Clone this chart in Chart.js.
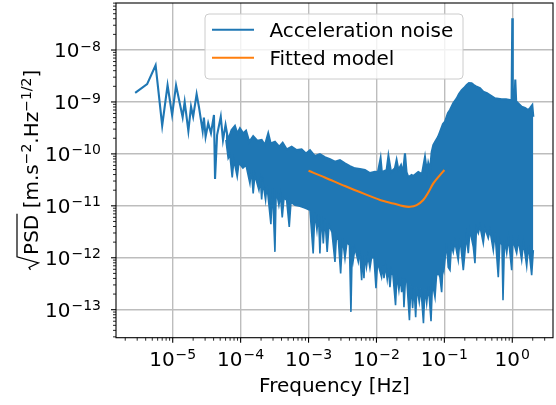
<!DOCTYPE html>
<html>
<head>
<meta charset="utf-8">
<script src="https://cdn.jsdelivr.net/npm/chart.js@4.4.1/dist/chart.umd.min.js"></script>
<style>
  html, body { margin: 0; padding: 0; background: #fff; }
  #wrap { width: 556px; height: 405px; }
</style>
</head>
<body>
<div id="wrap"><canvas id="psd" width="556" height="405"></canvas></div>
<script>
// === Acceleration noise PSD (log-log) ===

// --- Data ---
// low-frequency line, then the top edge of the noise band
const noiseFreq = [
  2.8e-6, 4.2e-6, 5.6e-6, 7.0e-6, 8.4e-6, 9.8e-6, 1.12e-5, 1.4e-5, 1.5e-5, 1.7e-5,
  1.86e-5, 2.0e-5, 2.25e-5, 2.43e-5, 2.76e-5, 2.88e-5, 3.05e-5, 3.33e-5, 3.66e-5, 4.05e-5,
  4.2e-5, 4.5e-5, 5.1e-5, 5.5e-5, 6.0e-5,
  6.56e-5, 7.36e-5, 8.24e-5, 8.91e-5, 9.77e-5, 1.09e-4, 1.20e-4, 1.34e-4, 1.53e-4, 1.76e-4,
  2.04e-4, 2.28e-4, 2.55e-4, 2.77e-4, 3.20e-4, 3.70e-4, 4.16e-4, 4.76e-4, 5.64e-4, 6.68e-4,
  7.91e-4, 9.16e-4, 1.05e-3, 1.24e-3, 1.47e-3, 1.74e-3, 2.07e-3, 2.45e-3, 2.90e-3, 3.44e-3,
  4.07e-3, 4.82e-3, 5.72e-3, 6.77e-3, 8.02e-3, 9.51e-3, 1.05e-2, 1.15e-2, 1.20e-2, 1.41e-2,
  1.50e-2, 1.64e-2, 1.87e-2, 1.98e-2, 2.11e-2, 2.30e-2, 2.46e-2, 2.63e-2, 2.77e-2, 2.94e-2,
  3.30e-2, 3.48e-2, 4.13e-2, 4.68e-2, 5.18e-2, 5.54e-2, 5.79e-2, 6.14e-2, 6.50e-2, 6.87e-2,
  7.28e-2, 8.05e-2, 8.61e-2, 9.53e-2, 0.102, 0.113, 0.121, 0.135, 0.152, 0.164,
  0.180, 0.194, 0.213, 0.230, 0.252, 0.273, 0.299, 0.334, 0.374, 0.424,
  0.469, 0.556, 0.698, 0.808, 0.925, 0.977, 1.0, 1.017, 1.077, 1.107,
  1.14, 1.21, 1.375, 1.54, 1.72, 1.82, 1.97, 2.04
];
const noisePsd = [
  1.5e-9, 2.2e-9, 5.1e-9, 3.5e-10, 2.1e-9, 5.6e-10, 2.1e-9, 5.1e-10, 1.0e-9, 2.75e-10,
  8.1e-10, 5.2e-10, 1.42e-9, 8.1e-10, 2.75e-10, 5.0e-10, 2.14e-10, 3.9e-10, 2.5e-10, 5.6e-10,
  3.3e-11, 2.3e-10, 5.2e-10, 1.85e-10, 3.6e-10,
  1.85e-10, 2.87e-10, 3.44e-10, 2.48e-10, 3.1e-10, 2.48e-10, 2.79e-10, 1.71e-10, 2.2e-10, 1.79e-10,
  1.85e-10, 1.48e-10, 2.48e-10, 1.59e-10, 1.71e-10, 1.37e-10, 1.64e-10, 1.22e-10, 1.37e-10, 1.18e-10,
  1.22e-10, 1.02e-10, 1.18e-10, 9.08e-11, 9.9e-11, 8.67e-11, 7.94e-11, 7.05e-11, 7.6e-11, 6.56e-11,
  5.82e-11, 5.26e-11, 5.09e-11, 4.88e-11, 4.27e-11, 4.52e-11, 4.46e-11, 8.18e-11, 4.46e-11, 4.88e-11,
  9.08e-11, 4.46e-11, 5.32e-11, 7.6e-11, 4.88e-11, 6.08e-11, 4.27e-11, 1.02e-10, 4.46e-11, 3.57e-11,
  3.91e-11, 3.73e-11, 4.46e-11, 4.08e-11, 8.67e-11, 4.46e-11, 6.65e-11, 4.88e-11, 1.08e-10, 1.48e-10,
  1.69e-10, 2.11e-10, 2.63e-10, 3.75e-10, 4.16e-10, 6.11e-10, 6.98e-10, 9.4e-10, 1.17e-9, 1.42e-9,
  1.69e-9, 1.85e-9, 2.12e-9, 2.31e-9, 2.28e-9, 2.12e-9, 1.96e-9, 1.85e-9, 1.57e-9, 1.48e-9,
  1.36e-9, 1.17e-9, 1.12e-9, 1.13e-9, 1.09e-9, 1.13e-9, 4.1e-8, 1.13e-9, 1.09e-9, 2.7e-9,
  1.04e-9, 9.5e-10, 8.09e-10, 7.63e-10, 6.98e-10, 7.63e-10, 8.7e-10, 5.19e-10
];

// bottom edge of the noise band (with the downward spikes)
const floorFreq = [
  6.07e-5, 6.56e-5, 6.95e-5, 7.52e-5, 7.96e-5, 8.91e-5, 9.44e-5, 1.08e-4, 1.20e-4, 1.37e-4,
  1.44e-4, 1.53e-4, 1.62e-4, 1.86e-4, 1.96e-4, 2.04e-4, 2.13e-4, 2.33e-4, 2.44e-4, 2.79e-4,
  2.94e-4, 3.20e-4, 3.34e-4, 3.66e-4, 3.86e-4, 4.10e-4, 4.35e-4, 4.76e-4, 5.20e-4, 5.51e-4,
  6.31e-4, 7.47e-4, 8.85e-4, 1.05e-3, 1.17e-3, 1.24e-3, 1.33e-3, 1.40e-3, 1.47e-3, 1.55e-3,
  1.65e-3, 1.74e-3, 1.88e-3, 2.00e-3, 2.21e-3, 2.45e-3, 2.58e-3, 2.75e-3, 2.97e-3, 3.16e-3,
  3.44e-3, 3.68e-3, 4.00e-3, 4.21e-3, 4.40e-3, 4.55e-3, 4.82e-3, 5.40e-3, 5.66e-3, 6.06e-3,
  6.24e-3, 6.55e-3, 6.77e-3, 7.13e-3, 7.50e-3, 8.02e-3, 8.44e-3, 9.18e-3, 9.84e-3, 1.04e-2,
  1.19e-2, 1.25e-2, 1.29e-2, 1.36e-2, 1.44e-2, 1.50e-2, 1.58e-2, 1.66e-2, 1.75e-2, 1.91e-2,
  2.00e-2, 2.14e-2, 2.25e-2, 2.35e-2, 2.46e-2, 2.54e-2, 2.67e-2, 2.81e-2, 3.06e-2, 3.22e-2,
  3.41e-2, 3.57e-2, 3.78e-2, 3.95e-2, 4.27e-2, 4.52e-2, 4.92e-2, 5.18e-2, 5.49e-2, 5.83e-2,
  6.36e-2, 6.68e-2, 7.28e-2, 7.65e-2, 8.05e-2, 8.61e-2, 9.12e-2, 9.53e-2, 9.85e-2, 0.108,
  0.114, 0.121, 0.127, 0.135, 0.143, 0.160, 0.170, 0.190, 0.211, 0.225,
  0.238, 0.267, 0.282, 0.297, 0.316, 0.334, 0.374, 0.396, 0.443, 0.469,
  0.525, 0.556, 0.622, 0.659, 0.705, 0.730, 0.768, 0.828, 0.879, 0.98,
  1.024, 1.16, 1.23, 1.375, 1.46, 1.63, 1.73, 1.93, 2.04
];
const floorPsd = [
  1.85e-10, 8.18e-11, 9.48e-11, 3.52e-11, 7.6e-11, 3.62e-11, 6.65e-11, 5.32e-11, 6.08e-11, 2.7e-11,
  4.88e-11, 1.73e-11, 3.91e-11, 2.01e-11, 3.13e-11, 1.33e-11, 2.86e-11, 1.29e-11, 2.51e-11, 4.43e-12,
  2.19e-11, 1.30e-12, 2.01e-11, 1.03e-11, 1.61e-11, 5.98e-12, 1.41e-11, 1.29e-11, 3.94e-12, 1.18e-11,
  1.03e-11, 9.86e-12, 9.03e-12, 8.26e-12, 1.21e-12, 7.56e-12, 3.4e-12, 6.92e-12, 1.21e-12, 6.34e-12,
  1.89e-12, 5.8e-12, 1.30e-12, 4.25e-12, 3.11e-12, 8.34e-13, 2.72e-12, 2.18e-12, 4.98e-13, 2.39e-12,
  9.7e-13, 2.0e-12, 1.75e-12, 9.08e-14, 1.67e-12, 8.99e-13, 1.53e-12, 8.34e-13, 1.4e-12, 3.7e-13,
  1.12e-12, 4.05e-13, 1.12e-12, 6.59e-13, 1.07e-12, 6.3e-13, 9.8e-13, 1.03e-12, 2.59e-13, 8.22e-13,
  4.23e-13, 7.2e-13, 4.05e-13, 6.89e-13, 3.87e-13, 6.3e-13, 2.71e-13, 5.77e-13, 4.62e-13, 1.22e-13,
  4.62e-13, 2.38e-13, 4.23e-13, 2.17e-13, 4.05e-13, 1.12e-13, 3.7e-13, 3.39e-13, 6.28e-14, 3.1e-13,
  1.07e-13, 2.84e-13, 7.18e-14, 2.71e-13, 1.4e-13, 2.59e-13, 5.5e-14, 2.59e-13, 1.33e-13, 2.84e-13,
  6.0e-14, 3.24e-13, 1.74e-13, 4.42e-13, 5.28e-13, 4.23e-13, 2.17e-13, 7.2e-13, 5.77e-13, 1.91e-12,
  6.59e-13, 5.77e-13, 1.75e-12, 1.28e-12, 2.0e-12, 8.99e-13, 2.39e-12, 5.77e-13, 2.61e-12, 1.23e-12,
  3.4e-12, 1.6e-12, 7.87e-13, 3.72e-12, 2.98e-12, 4.06e-12, 1.91e-12, 3.72e-12, 2.39e-12, 3.4e-12,
  1.4e-12, 3.11e-12, 4.23e-13, 2.18e-12, 1.75e-12, 1.52e-13, 2.18e-12, 1.23e-12, 2.39e-12, 5.77e-13,
  2.18e-12, 1.23e-12, 2.18e-12, 8.99e-13, 2.0e-12, 6.89e-13, 1.75e-12, 4.62e-13, 1.4e-12
];

// fitted model
const modelFreq = [1.0e-3, 1.74e-3, 3.44e-3, 6.77e-3, 1.13e-2, 1.77e-2, 2.48e-2, 3.11e-2, 3.91e-2, 4.89e-2, 5.79e-2, 6.87e-2, 8.61e-2, 0.1];
const modelPsd = [4.72e-11, 3.52e-11, 2.40e-11, 1.68e-11, 1.30e-11, 1.11e-11, 9.86e-12, 9.57e-12, 1.03e-11, 1.29e-11, 1.80e-11, 2.70e-11, 3.91e-11, 4.9e-11];

// axis decades
const xTickExps = [-5, -4, -3, -2, -1, 0];
const yTickExps = [-13, -12, -11, -10, -9, -8];

const BLUE = '#1f77b4';
const ORANGE = '#ff7f0e';
const FONT = '"DejaVu Sans", "Liberation Sans", sans-serif';

const pts = (xs, ys) => xs.map((x, i) => ({ x, y: ys[i] }));

// "10" with a raised exponent
function drawPower(ctx, exp, x, y, align) {
    const sup = (exp < 0 ? '\u2212' : '') + Math.abs(exp);
    ctx.font = '20px ' + FONT;
    const wb = ctx.measureText('10').width;
    ctx.font = '14px ' + FONT;
    const ws = ctx.measureText(sup).width;
    const w = wb + 1 + ws;
    const left = align === 'center' ? x - w / 2 : x - w;
    ctx.textAlign = 'left';
    ctx.textBaseline = 'alphabetic';
    ctx.font = '20px ' + FONT;
    ctx.fillText('10', left, y);
    ctx.font = '14px ' + FONT;
    ctx.fillText(sup, left + wb + 1, y - 6.7);
}

function drawYLabel(ctx) {
    const big = '20px ' + FONT, small = '14px ' + FONT;
    const runs = [['PSD', 0], [' [m.s', 0], ['\u22122', 1], ['.Hz', 0], ['\u22121/2', 1], [']', 0]];
    const radW = 16;
    let total = radW;
    runs.forEach(r => { ctx.font = r[1] ? small : big; r.w = ctx.measureText(r[0]).width; total += r.w; });
    ctx.save();
    ctx.translate(37.5, 170.3);
    ctx.rotate(-Math.PI / 2);
    let u = -total / 2;
    // radical sign + bar over PSD
    ctx.strokeStyle = '#000';
    ctx.lineWidth = 1.2;
    ctx.beginPath();
    ctx.moveTo(u + 1, -7);
    ctx.lineTo(u + 3.5, -8.5);
    ctx.lineTo(u + 8, 1);
    ctx.lineTo(u + 14, -20.5);
    ctx.lineTo(u + radW + runs[0].w + 1, -20.5);
    ctx.stroke();
    u += radW;
    ctx.textAlign = 'left';
    ctx.textBaseline = 'alphabetic';
    runs.forEach(r => {
        ctx.font = r[1] ? small : big;
        ctx.fillText(r[0], u, r[1] ? -6.7 : 0);
        u += r.w;
    });
    ctx.restore();
}

function roundRect(ctx, x, y, w, h, r) {
    ctx.beginPath();
    ctx.moveTo(x + r, y);
    ctx.arcTo(x + w, y, x + w, y + h, r);
    ctx.arcTo(x + w, y + h, x, y + h, r);
    ctx.arcTo(x, y + h, x, y, r);
    ctx.arcTo(x, y, x + w, y, r);
    ctx.closePath();
}

// spines, ticks, tick labels, axis titles and legend (matplotlib look)
const decorations = {
    id: 'decorations',
    afterDraw(chart) {
        const { ctx, chartArea: a, scales: { x, y } } = chart;
        ctx.save();
        ctx.fillStyle = '#000';
        ctx.strokeStyle = '#000';

        // ticks
        const tick = (x1, y1, x2, y2, lw) => {
            ctx.lineWidth = lw;
            ctx.beginPath(); ctx.moveTo(x1, y1); ctx.lineTo(x2, y2); ctx.stroke();
        };
        for (let n = -6; n <= 0; n++) {
            for (let m = 1; m <= 9; m++) {
                const v = m * Math.pow(10, n);
                if (v < x.min || v > x.max) continue;
                const px = x.getPixelForValue(v);
                tick(px, a.bottom, px, a.bottom + (m === 1 ? 5 : 3), m === 1 ? 1.1 : 0.85);
            }
        }
        for (let n = -14; n <= -8; n++) {
            for (let m = 1; m <= 9; m++) {
                const v = m * Math.pow(10, n);
                if (v < y.min || v > y.max) continue;
                const py = y.getPixelForValue(v);
                tick(a.left, py, a.left - (m === 1 ? 5 : 3), py, m === 1 ? 1.1 : 0.85);
            }
        }

        // spines
        ctx.lineWidth = 1.1;
        ctx.strokeRect(a.left, a.top, a.right - a.left, a.bottom - a.top);

        // tick labels
        xTickExps.forEach(e => drawPower(ctx, e, x.getPixelForValue(Math.pow(10, e)), 366, 'center'));
        yTickExps.forEach(e => drawPower(ctx, e, 101, y.getPixelForValue(Math.pow(10, e)) + 7.3, 'right'));

        // axis titles
        ctx.font = '20px ' + FONT;
        ctx.textAlign = 'center';
        ctx.textBaseline = 'alphabetic';
        ctx.fillText('Frequency [Hz]', (a.left + a.right) / 2, 391.5);
        drawYLabel(ctx);

        // legend
        roundRect(ctx, 205, 14, 258, 65, 4);
        ctx.fillStyle = 'rgba(255,255,255,0.8)';
        ctx.fill();
        ctx.strokeStyle = '#cccccc';
        ctx.lineWidth = 1;
        ctx.stroke();
        const items = [[BLUE, 'Acceleration noise', 37.3], [ORANGE, 'Fitted model', 65.3]];
        items.forEach(([c, label, base]) => {
            ctx.strokeStyle = c;
            ctx.lineWidth = 2.1;
            ctx.beginPath(); ctx.moveTo(212, base - 7.5); ctx.lineTo(254, base - 7.5); ctx.stroke();
            ctx.fillStyle = '#000';
            ctx.font = '20px ' + FONT;
            ctx.textAlign = 'left';
            ctx.fillText(label, 269.5, base);
        });
        ctx.restore();
    }
};

const majorGrid = (axis, exps) => {
    axis.ticks = exps.map(e => ({ value: Math.pow(10, e) }));
};

new Chart(document.getElementById('psd'), {
    type: 'line',
    data: {
        datasets: [
            {
                label: 'Acceleration noise',
                data: pts(noiseFreq, noisePsd),
                borderColor: BLUE,
                borderWidth: 2.1,
                pointRadius: 0,
                fill: false,
                order: 1
            },
            {
                label: 'noise floor',
                data: pts(floorFreq, floorPsd),
                borderColor: BLUE,
                backgroundColor: BLUE,
                borderWidth: 1.6,
                pointRadius: 0,
                fill: '-1',
                order: 1
            },
            {
                label: 'Fitted model',
                data: pts(modelFreq, modelPsd),
                borderColor: ORANGE,
                borderWidth: 2.1,
                pointRadius: 0,
                tension: 0.3,
                fill: false,
                order: 0
            }
        ]
    },
    options: {
        responsive: false,
        animation: false,
        devicePixelRatio: 1,
        layout: { padding: { left: 0, top: 3, right: 3, bottom: 0 } },
        plugins: {
            legend: { display: false },
            tooltip: { enabled: false }
        },
        scales: {
            x: {
                type: 'logarithmic',
                min: 1.462e-6,
                max: 3.977,
                afterBuildTicks: axis => majorGrid(axis, xTickExps),
                afterFit: axis => { axis.height = 67.3; },
                ticks: { display: false },
                border: { display: false },
                grid: { color: '#bdbdbd', lineWidth: 1.4, drawTicks: false }
            },
            y: {
                type: 'logarithmic',
                min: 2.89e-14,
                max: 8.04e-8,
                afterBuildTicks: axis => majorGrid(axis, yTickExps),
                afterFit: axis => { axis.width = 116; },
                ticks: { display: false },
                border: { display: false },
                grid: { color: '#bdbdbd', lineWidth: 1.4, drawTicks: false }
            }
        }
    },
    plugins: [decorations]
});
</script>
</body>
</html>
